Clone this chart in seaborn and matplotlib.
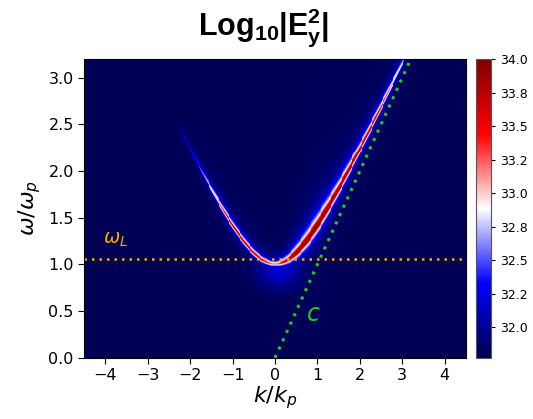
import numpy as np
import pandas as pd
import matplotlib
matplotlib.use("Agg")
import matplotlib.pyplot as plt
import seaborn as sns
from matplotlib.ticker import MultipleLocator, FormatStrFormatter

# ---- chart values ----
k_limits = [-4.5, 4.5]
w_limits = [0.0, 3.2]
x_ticks = [-4, -3, -2, -1, 0, 1, 2, 3, 4]
y_ticks = [0.0, 0.5, 1.0, 1.5, 2.0, 2.5, 3.0]
cbar_limits = [31.77, 34.0]
background_level = 31.8
omega_L = 1.06
light_k = [0.0, 3.2]          # omega = c k
light_w = [0.0, 3.2]
# peak level of log10|Ey^2| along the dispersion branch
branch_k = [-2.4, -2.1, -1.8, -1.5, -1.2, -0.9, -0.6, -0.3, 0.0, 0.2, 0.5, 0.8, 1.1, 1.5, 2.0, 2.4, 2.7, 2.9, 3.1]
branch_level = [31.8, 32.1, 32.4, 32.9, 33.4, 33.6, 33.6, 33.5, 33.1, 33.5, 33.95, 34.0, 34.0, 33.85, 33.65, 33.5, 33.2, 32.9, 32.7]
branch_width = [1.0, 1.0, 1.1, 1.3, 1.5, 1.6, 1.8, 2.0, 2.2, 2.6, 3.3, 3.6, 3.3, 2.5, 1.9, 1.6, 1.5, 1.4, 1.4]
# faint glow around the cutoff
glow_center = [0.1, 0.93]
glow_level = 0.4

# ---- build field ----
nk, nw = 420, 300
kk = np.linspace(k_limits[0], k_limits[1], nk)
ww = np.linspace(w_limits[0], w_limits[1], nw)
K, W = np.meshgrid(kk, ww)
w_disp = np.sqrt(1 + K**2)
slope_px = (K / w_disp) * (93.3 / 42.3)
d_px = (W - w_disp) * 93.3 / np.sqrt(1 + slope_px**2)
lvl = np.interp(K, branch_k, branch_level, left=background_level, right=branch_level[-1])
wid = np.interp(K, branch_k, branch_width)
# slightly broader halo on the high-frequency side
wid_eff = np.where(d_px > 0, wid * 1.25, wid * 0.85)
Z = background_level + (lvl - background_level) / (1 + (d_px / wid_eff) ** 2)
glow = glow_level * np.exp(-(((K - glow_center[0]) / 0.5) ** 2 + ((W - glow_center[1]) / 0.18) ** 2))
Z = np.maximum(Z, background_level + glow)

# ---- plot ----
sns.set_theme(style="ticks")
plt.rcParams["font.family"] = ["DejaVu Sans"]
plt.rcParams["text.color"] = "black"
plt.rcParams["axes.labelcolor"] = "black"
plt.rcParams["xtick.color"] = "black"
plt.rcParams["ytick.color"] = "black"
plt.rcParams["axes.edgecolor"] = "black"
plt.rcParams["mathtext.fontset"] = "dejavusans"
plt.rcParams["mathtext.bf"] = "Liberation Sans:bold"
plt.rcParams["mathtext.rm"] = "Liberation Sans"
plt.rcParams["mathtext.it"] = "Liberation Sans:italic"

fig = plt.figure(figsize=(5.33, 4.19), dpi=100)
ax = fig.add_axes([0.158, 0.146, 0.716, 0.713])
cax = fig.add_axes([0.893, 0.146, 0.028, 0.713])

mesh = ax.pcolormesh(kk, ww, Z, cmap="seismic", vmin=cbar_limits[0], vmax=cbar_limits[1],
                     shading="nearest", rasterized=True)

line_df = pd.DataFrame({"k": k_limits, "w": [omega_L, omega_L]})
sns.lineplot(data=line_df, x="k", y="w", ax=ax, color="#FFA500", linestyle=(0, (1, 2)), lw=1.8)
light_df = pd.DataFrame({"k": light_k, "w": light_w})
sns.lineplot(data=light_df, x="k", y="w", ax=ax, color="#22CC22", linestyle=(0, (1, 2)), lw=2.2)

ax.text(-4.05, 1.27, r"$\omega_L$", color="#FFA500", fontsize=14, va="center", ha="left")
ax.text(0.72, 0.47, r"$c$", color="#22CC22", fontsize=17, va="center", ha="left")

ax.set_xlim(*k_limits)
ax.set_ylim(*w_limits)
ax.set_xticks(x_ticks)
ax.set_yticks(y_ticks)
ax.yaxis.set_major_formatter(FormatStrFormatter("%.1f"))
ax.tick_params(labelsize=11.5, length=4, width=0.8)
ax.set_xlabel(r"$k/k_p$", fontsize=16, labelpad=1)
ax.set_ylabel(r"$\omega/\omega_p$", fontsize=16, labelpad=4)
for s in ax.spines.values():
    s.set_linewidth(0.8)

cb = fig.colorbar(mesh, cax=cax)
cb.locator = MultipleLocator(0.25)
cb.formatter = FormatStrFormatter("%.1f")
cb.update_ticks()
cax.tick_params(labelsize=9, length=3, width=0.8)
cb.outline.set_linewidth(0.8)
cb.outline.set_edgecolor("#555555")

fig.text(0.494, 0.935, r"$\mathbf{Log_{10}|E_y^2|}$", fontsize=22, ha="center", va="center",
         math_fontfamily="custom")

fig.savefig("out.png", dpi=100)
